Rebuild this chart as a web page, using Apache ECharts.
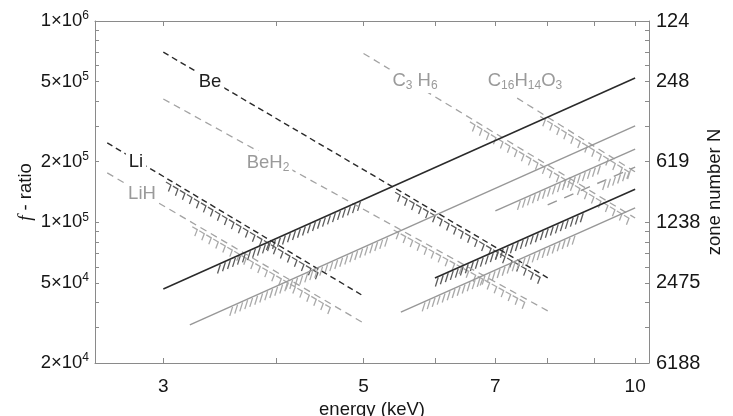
<!DOCTYPE html>
<html><head><meta charset="utf-8">
<script src="https://cdn.jsdelivr.net/npm/echarts@6/dist/echarts.min.js"></script>
<style>html,body{margin:0;padding:0;background:#fff}#c{width:733px;height:416px}</style>
</head><body><div id="c"></div>
<script>
// ---------------- data ----------------
const energyTicks = [3, 4, 5, 6, 7, 8, 9, 10];
const energyLabels = [3, 5, 7, 10];
const fTicks = [2e4, 3e4, 4e4, 5e4, 6e4, 7e4, 8e4, 9e4, 1e5, 2e5, 3e5, 4e5, 5e5, 6e5, 7e5, 8e5, 9e5, 1e6];
const fLabels = [2e4, 5e4, 1e5, 2e5, 5e5, 1e6];
const zoneLabels = ['6188', '2475', '1238', '619', '248', '124'];

// descending (dashed) lines, [energy keV, f-ratio]
const lineLi     = [[2.6, 2.48e5], [5.0, 4.3e4]];
const lineLiH    = [[2.6, 1.76e5], [5.0, 3.16e4]];
const lineBe     = [[3.0, 7.0e5], [8.0, 5.3e4]];
const lineBeH2   = [[3.0, 4.1e5], [8.0, 3.63e4]];
const lineC3H6   = [[5.0, 6.9e5], [10.0, 1.05e5]];
const lineC16    = [[7.4, 4.14e5], [10.0, 1.78e5]];
// ascending lines
const lineA = [[3.0, 4.66e4], [10.0, 5.21e5]];
const lineB = [[3.21, 3.09e4], [10.0, 3.01e5]];
const lineC = [[7.0, 1.14e5], [10.0, 2.31e5]];
const lineD = [[6.0, 5.29e4], [10.0, 1.46e5]];
const lineE = [[5.5, 3.58e4], [10.0, 1.18e5]];
const lineF = [[8.0, 1.22e5], [10.0, 1.88e5]];

// hatched energy ranges (keV)
const hatchLi   = [3.02, 4.46];
const hatchLiH  = [3.23, 4.62];
const hatchBe   = [5.42, 7.9];
const hatchBeH2 = [5.4, 7.55];
const hatchC3H6 = [6.56, 9.87];
const hatchC16  = [7.85, 10.0];
const hatchA = [3.47, 5.02];
const hatchB = [3.58, 5.35];
const hatchC = [7.46, 9.15];
const hatchD = [6.05, 8.83];
const hatchE = [5.85, 8.65];
const hatchF = [9.27, 10.0];

// ---------------- styling ----------------
const FONT = "'Liberation Sans', Arial, sans-serif";
const AX = '#8a8a8a';
const TXT = '#161616';
const DARK = '#2a2a2a', GRAY = '#979797', LIGHT = '#a3a3a3';
const HDARK = '#5c5c5c', HLIGHT = '#a9a9a9';
const lg = Math.log10;
const xMin = 2.52, xMax = 10.36, yMin = 2e4, yMax = 1e6;

function lineSeries(data, color, width, dash) {
  return {
    type: 'line', data: data, xAxisIndex: 0, yAxisIndex: 0,
    symbol: 'none', silent: true, z: 3,
    lineStyle: { color: color, width: width, type: dash || 'solid' }
  };
}
function hatchSeries(line, range, kind, color) {
  return {
    type: 'custom', xAxisIndex: 0, yAxisIndex: 0, silent: true, z: 2,
    data: [[range[0], line[0][1], range[1], line[1][1]]],
    encode: { x: [0, 2], y: [1, 3] },
    renderItem: function (params, api) {
      const a = api.coord(line[0]), b = api.coord(line[1]);
      const xs = api.coord([api.value(0), line[0][1]])[0];
      const xe = api.coord([api.value(2), line[0][1]])[0];
      const k = (b[1] - a[1]) / (b[0] - a[0]);
      const yAt = x => a[1] + k * (x - a[0]);
      const ch = [];
      if (kind === 'up') {
        for (let x = xs; x <= xe; x += 5) {
          const y = yAt(x) + 1;
          ch.push({ type: 'line', shape: { x1: x, y1: y, x2: x - 2.8, y2: y + 9 },
            style: { stroke: color, lineWidth: 1.3 } });
        }
      } else {
        for (let x = xs; x <= xe - 4; x += 7) {
          const y = yAt(x) + 4;
          ch.push({ type: 'polyline', shape: { points: [[x, y], [x + 5, y + 5 * k], [x + 2.5, y + 5 * k + 6.5]] },
            style: { stroke: color, fill: null, lineWidth: 1.3 } });
        }
      }
      return { type: 'group', children: ch };
    }
  };
}

const series = [
  hatchSeries(lineLi, hatchLi, 'down', HDARK),
  hatchSeries(lineLiH, hatchLiH, 'down', HLIGHT),
  hatchSeries(lineBe, hatchBe, 'down', HDARK),
  hatchSeries(lineBeH2, hatchBeH2, 'down', HLIGHT),
  hatchSeries(lineC3H6, hatchC3H6, 'down', HLIGHT),
  hatchSeries(lineC16, hatchC16, 'down', HLIGHT),
  hatchSeries(lineA, hatchA, 'up', HDARK),
  hatchSeries(lineB, hatchB, 'up', HLIGHT),
  hatchSeries(lineC, hatchC, 'up', HLIGHT),
  hatchSeries(lineD, hatchD, 'up', HDARK),
  hatchSeries(lineE, hatchE, 'up', HLIGHT),
  hatchSeries(lineF, hatchF, 'up', HLIGHT),
  lineSeries(lineLi, DARK, 1.4, [6, 4]),
  lineSeries(lineLiH, LIGHT, 1.3, [7, 5]),
  lineSeries(lineBe, DARK, 1.4, [6, 4]),
  lineSeries(lineBeH2, LIGHT, 1.3, [7, 5]),
  lineSeries(lineC3H6, LIGHT, 1.3, [7, 5]),
  lineSeries(lineC16, LIGHT, 1.3, [7, 5]),
  lineSeries(lineA, DARK, 1.5),
  lineSeries(lineB, GRAY, 1.4),
  lineSeries(lineC, GRAY, 1.4),
  lineSeries(lineD, DARK, 1.5),
  lineSeries(lineE, GRAY, 1.4),
  lineSeries(lineF, GRAY, 1.4, [10, 8])
];

function chemLabel(x, y, parts, color) {
  let t = '';
  parts.forEach(p => { t += p[1] ? '{s|' + p[0] + '}' : '{b|' + p[0] + '}'; });
  return {
    type: 'text', x: x, y: y, z: 100,
    style: {
      text: t, align: 'center', verticalAlign: 'middle',
      backgroundColor: '#fff', padding: [1, 3],
      rich: {
        b: { fontSize: 18.5, fontFamily: FONT, fill: color, lineHeight: 22 },
        s: { fontSize: 12, fontFamily: FONT, fill: color, lineHeight: 12, verticalAlign: 'bottom' }
      }
    }
  };
}

const tickStyle = { color: AX, width: 1 };
const option = {
  animation: false,
  backgroundColor: '#fff',
  grid: { left: 95, right: 84, top: 21, bottom: 53, containLabel: false, outerBoundsMode: 'none' },
  xAxis: [
    { type: 'log', logBase: 10, min: xMin, max: xMax, position: 'bottom',
      axisLine: { show: true, lineStyle: { color: AX, width: 1 } },
      axisTick: { show: false }, axisLabel: { show: false }, splitLine: { show: false }, minorTick: { show: false } },
    { type: 'value', min: lg(xMin), max: lg(xMax), position: 'bottom',
      axisLine: { show: false }, splitLine: { show: false },
      axisTick: { show: true, inside: true, length: 5, customValues: energyTicks.map(lg), lineStyle: tickStyle },
      axisLabel: { customValues: energyLabels.map(lg), margin: 14, fontSize: 19, fontFamily: FONT, color: TXT,
        formatter: v => String(Math.round(Math.pow(10, v))) },
      name: 'energy (keV)', nameLocation: 'middle', nameGap: 35,
      nameTextStyle: { fontSize: 18.5, fontFamily: FONT, color: TXT } },
    { type: 'value', min: lg(xMin), max: lg(xMax), position: 'top',
      axisLine: { show: true, lineStyle: { color: AX, width: 1 } }, splitLine: { show: false },
      axisTick: { show: true, inside: true, length: 5, customValues: energyTicks.map(lg), lineStyle: tickStyle },
      axisLabel: { show: false } }
  ],
  yAxis: [
    { type: 'log', logBase: 10, min: yMin, max: yMax, position: 'left',
      axisLine: { show: true, lineStyle: { color: AX, width: 1 } },
      axisTick: { show: false }, axisLabel: { show: false }, splitLine: { show: false }, minorTick: { show: false } },
    { type: 'value', min: lg(yMin), max: lg(yMax), position: 'left',
      axisLine: { show: false }, splitLine: { show: false },
      axisTick: { show: true, inside: true, length: 4, customValues: fTicks.map(lg), lineStyle: tickStyle },
      axisLabel: { customValues: fLabels.map(lg), margin: 6, color: TXT,
        formatter: v => {
          const f = fLabels.find(q => Math.abs(lg(q) - v) < 1e-6);
          const p = Math.floor(lg(f) + 1e-9);
          const m = Math.round(f / Math.pow(10, p));
          return '{b|' + m + '×10}{s|' + p + '}';
        },
        rich: {
          b: { fontSize: 18.5, fontFamily: FONT, color: TXT, lineHeight: 22 },
          s: { fontSize: 12, fontFamily: FONT, color: TXT, lineHeight: 12, verticalAlign: 'top' }
        } },
      name: '{i|f} - ratio', nameLocation: 'middle', nameRotate: 90, nameGap: 60, nameMoveOverlap: false,
      nameTextStyle: { fontSize: 18.5, fontFamily: FONT, color: TXT,
        rich: { i: { fontSize: 19, fontFamily: "'Liberation Serif', serif", fontStyle: 'italic', color: TXT } } } },
    { type: 'value', min: lg(yMin), max: lg(yMax), position: 'right',
      axisLine: { show: true, lineStyle: { color: AX, width: 1 } }, splitLine: { show: false },
      axisTick: { show: true, inside: true, length: 4, customValues: fTicks.map(lg), lineStyle: tickStyle },
      axisLabel: { customValues: fLabels.map(lg), margin: 7, fontSize: 20, fontFamily: FONT, color: TXT,
        formatter: v => zoneLabels[fLabels.findIndex(q => Math.abs(lg(q) - v) < 1e-6)] },
      name: 'zone number N', nameLocation: 'middle', nameRotate: 90, nameGap: 56, nameMoveOverlap: false,
      nameTextStyle: { fontSize: 18.5, fontFamily: FONT, color: TXT } }
  ],
  series: series,
  graphic: [
    chemLabel(210, 82, [['Be', 0]], '#1e1e1e'),
    chemLabel(136, 162, [['Li', 0]], '#1e1e1e'),
    chemLabel(142, 194, [['LiH', 0]], '#9a9a9a'),
    chemLabel(268, 163, [['BeH', 0], ['2', 1]], '#9a9a9a'),
    chemLabel(415, 81, [['C', 0], ['3', 1], [' H', 0], ['6', 1]], '#9a9a9a'),
    chemLabel(525, 81, [['C', 0], ['16', 1], ['H', 0], ['14', 1], ['O', 0], ['3', 1]], '#9a9a9a')
  ]
};
const chart = echarts.init(document.getElementById('c'), null, { renderer: 'canvas' });
chart.setOption(option);
</script>
</body></html>
